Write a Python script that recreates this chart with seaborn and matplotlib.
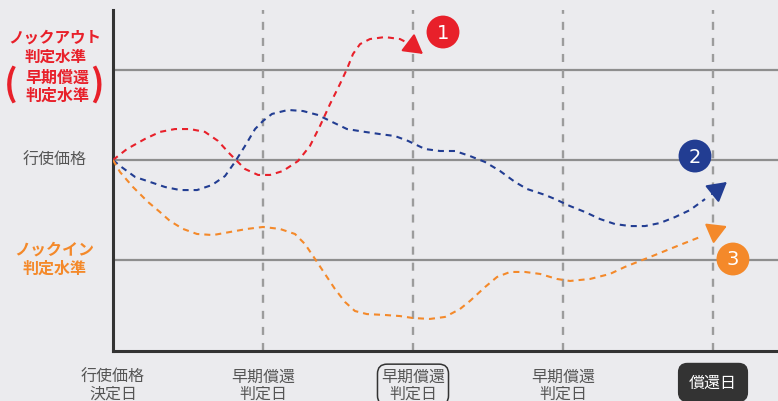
import numpy as np
import pandas as pd
import seaborn as sns
import matplotlib.pyplot as plt

# price levels (strike = 100)
knock_out = 105.0
strike = 100.0
knock_in = 94.45

date_labels = ['行使価格\n決定日', '早期償還\n判定日', '早期償還\n判定日', '早期償還\n判定日', '償還日']

# path 1 : knocks out (red)
red_x = [0, 0.093, 0.213, 0.313, 0.413, 0.513, 0.613, 0.70, 0.78, 0.833, 0.88, 0.967, 1.047,
         1.133, 1.233, 1.313, 1.38, 1.447, 1.513, 1.56, 1.60, 1.647, 1.713, 1.813, 1.913, 1.98]
red_y = [100, 100.61, 101.17, 101.56, 101.72, 101.72, 101.56, 101.06, 100.33, 99.89, 99.5, 99.17, 99.17,
         99.39, 99.94, 100.78, 101.89, 103.11, 104.22, 105.06, 105.89, 106.44, 106.72, 106.83, 106.72, 106.44]

# path 2 : stays between (blue)
blue_x = [0, 0.047, 0.147, 0.247, 0.347, 0.447, 0.56, 0.66, 0.747, 0.813, 0.88, 0.947, 1.0, 1.06,
          1.167, 1.267, 1.367, 1.447, 1.56, 1.68, 1.78, 1.88, 1.967, 2.08, 2.18, 2.28, 2.38, 2.48,
          2.58, 2.68, 2.76, 2.88, 2.947, 3.047, 3.147, 3.247, 3.347, 3.447, 3.547, 3.647, 3.747,
          3.847, 3.947]
blue_y = [100, 99.67, 99.06, 98.78, 98.5, 98.33, 98.33, 98.61, 99.11, 99.89, 100.78, 101.72, 102.17,
          102.56, 102.78, 102.72, 102.5, 102.17, 101.72, 101.56, 101.44, 101.33, 101.06, 100.61, 100.5,
          100.5, 100.22, 99.89, 99.39, 98.78, 98.39, 98.06, 97.83, 97.44, 97.11, 96.72, 96.44, 96.33,
          96.33, 96.5, 96.83, 97.22, 97.83]

# path 3 : knocks in (orange)
orange_x = [0, 0.047, 0.133, 0.233, 0.313, 0.38, 0.467, 0.56, 0.667, 0.78, 0.893, 1.0, 1.113, 1.213,
            1.28, 1.347, 1.413, 1.48, 1.547, 1.613, 1.693, 1.813, 1.913, 2.0, 2.113, 2.213, 2.313,
            2.38, 2.48, 2.56, 2.647, 2.747, 2.847, 2.96, 3.047, 3.18, 3.313, 3.413, 3.513, 3.613,
            3.713, 3.813, 3.913]
orange_y = [100, 99.33, 98.5, 97.67, 97.11, 96.61, 96.17, 95.89, 95.83, 96.0, 96.17, 96.28, 96.17,
            95.89, 95.33, 94.5, 93.67, 92.83, 92.11, 91.61, 91.44, 91.39, 91.33, 91.22, 91.17, 91.28,
            91.72, 92.17, 92.94, 93.5, 93.78, 93.78, 93.67, 93.39, 93.28, 93.39, 93.67, 94.06, 94.39,
            94.72, 95.06, 95.39, 95.72]

# arrow tails / tips and numbered badges
arrow_tail = [(1.98, 106.44), (3.993, 98.11), (4.0, 96.0)]
arrow_tip = [(2.067, 105.89), (4.093, 98.78), (4.093, 96.33)]
badge_x = [2.2, 3.88, 4.133]
badge_y = [107.11, 100.22, 94.5]
badge_num = ['1', '2', '3']

RED, BLUE, ORANGE = '#e8202a', '#223d92', '#f4892a'
BG = '#ebebee'

sns.set_theme(style='white')
plt.rcParams['font.family'] = ['Noto Sans CJK JP', 'DejaVu Sans']

fig = plt.figure(figsize=(7.78, 4.02), dpi=100, facecolor=BG)
ax = fig.add_axes([113 / 778, 50 / 402, 665 / 778, 341 / 402], facecolor=BG)

for lvl in [knock_out, strike, knock_in]:
    ax.axhline(lvl, color='#8e8e8e', lw=1.6, zorder=1)
for d in range(1, 5):
    ax.axvline(d, color='#9c9c9c', lw=1.7, ls=(0, (3.4, 3.4)), zorder=1)

paths = pd.concat([
    pd.DataFrame({'day': red_x, 'price': red_y, 'path': '1'}),
    pd.DataFrame({'day': blue_x, 'price': blue_y, 'path': '2'}),
    pd.DataFrame({'day': orange_x, 'price': orange_y, 'path': '3'}),
])
for (name, grp), col in zip(paths.groupby('path'), [RED, BLUE, ORANGE]):
    sns.lineplot(data=grp, x='day', y='price', color=col, lw=1.5, sort=False,
                 linestyle=(0, (2.9, 2.4)), ax=ax, zorder=3)

for tail, tip, col in zip(arrow_tail, arrow_tip, [RED, BLUE, ORANGE]):
    ax.annotate('', xy=tip, xytext=tail, zorder=4,
                arrowprops=dict(arrowstyle='-|>,head_length=0.42,head_width=0.24',
                                mutation_scale=28, color=col, lw=1.5,
                                shrinkA=0, shrinkB=0))

ax.scatter(badge_x, badge_y, s=560, c=[RED, BLUE, ORANGE], zorder=5, clip_on=False, linewidths=0)
for bx, by, n in zip(badge_x, badge_y, badge_num):
    ax.text(bx, by, n, color='white', fontsize=14, ha='center', va='center',
            family='DejaVu Sans', zorder=6, clip_on=False)

ax.set_xlim(0, 665 / 150)
ax.set_ylim(100 - 191 / 18, 100 + 150 / 18)
ax.set_xlabel('')
ax.set_ylabel('')
ax.set_yticks([])
ax.set_xticks(range(5))
ax.set_xticklabels(date_labels[:4] + [''], fontsize=11.5, color='#555555', linespacing=1.0)
ax.tick_params(axis='x', direction='in', length=5, width=1.3, color='#9c9c9c', pad=12)
for s in ['top', 'right']:
    ax.spines[s].set_visible(False)
for s in ['left', 'bottom']:
    ax.spines[s].set_color('#333333')
    ax.spines[s].set_linewidth(2.2)

ticks = ax.get_xticklabels()
ticks[2].set_bbox(dict(boxstyle='round,pad=0.22,rounding_size=0.6', fc='none', ec='#333333', lw=1.1))

# redemption day label in a dark box
ax.text(4, -0.092, date_labels[4], transform=ax.get_xaxis_transform(), fontsize=11.5,
        color='white', ha='center', va='center', clip_on=False,
        bbox=dict(boxstyle='round,pad=0.65,rounding_size=0.55', fc='#333333', ec='#333333'))

# left-side level labels
def fy(py):
    return 1 - py / 402

fig.text(55 / 778, fy(47), 'ノックアウト\n判定水準', color=RED, fontsize=11.2, ha='center',
         va='center', fontweight='bold', linespacing=1.2)
fig.text(57 / 778, fy(87), '早期償還\n判定水準', color=RED, fontsize=11.5, ha='center',
         va='center', fontweight='bold', linespacing=1.15)
fig.text(11 / 778, fy(85), '(', color=RED, fontsize=26, ha='center', va='center', fontweight='bold')
fig.text(97 / 778, fy(85), ')', color=RED, fontsize=26, ha='center', va='center', fontweight='bold')
fig.text(55 / 778, fy(160), '行使価格', color='#555555', fontsize=11.5, ha='center', va='center')
fig.text(54 / 778, fy(259), 'ノックイン\n判定水準', color=ORANGE, fontsize=11.5, ha='center',
         va='center', fontweight='bold', linespacing=1.2)

fig.savefig('out.png', dpi=100, facecolor=BG)
